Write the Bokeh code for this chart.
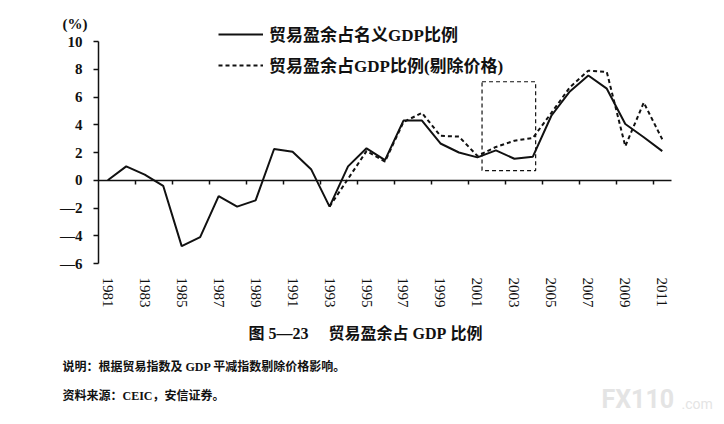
import math
from bokeh.plotting import figure
from bokeh.models import (Range1d, FixedTicker, Label, Legend, LegendItem,
                          BoxAnnotation, LinearAxis)
from bokeh.embed import file_html
from bokeh.resources import INLINE

# ---------------- data ----------------
years = list(range(1981, 2012))
nominal = [0.0, 1.0, 0.4, -0.4, -4.75, -4.1, -1.15, -1.9, -1.45, 2.25, 2.05,
           0.8, -1.9, 1.0, 2.3, 1.45, 4.3, 4.3, 2.65, 2.0, 1.65, 2.15, 1.55,
           1.7, 4.65, 6.4, 7.55, 6.6, 4.05, 3.1, 2.1]
years_real = list(range(1993, 2012))
real = [-1.9, 0.1, 2.1, 1.35, 4.2, 4.85, 3.2, 3.15, 1.75, 2.4, 2.85, 3.05,
        4.85, 6.7, 7.9, 7.8, 2.45, 5.6, 2.95]
x_tick_labels = list(range(1981, 2012, 2))
x_tick_marks = [y + 0.5 for y in range(1982, 2011, 2)]
y_ticks = [-6, -4, -2, 0, 2, 4, 6, 8, 10]
highlight = dict(left=2001.25, right=2004.15, bottom=0.7, top=7.1)

series_names = ["贸易盈余占名义GDP比例", "贸易盈余占GDP比例(剔除价格)"]
caption = "图\u00a05—23\u3000\u00a0贸易盈余占\u00a0GDP\u00a0比例"
note1 = "说明：根据贸易指数及 GDP 平减指数剔除价格影响。"
note2 = "资料来源：CEIC，安信证券。"

FONT = "Liberation Serif, Noto Sans CJK SC"

# ---------------- layout (pixels) ----------------
W, H = 716, 416
AX_L, AX_T, AX_W, AX_H = 98, 41, 573, 222      # axes box in canvas pixels
XA, XB, YA, YB = 1980.5, 2011.5, -6, 10         # axes box in data units
sx = AX_W / (XB - XA)
sy = AX_H / (YB - YA)
x_range = Range1d(XA - AX_L / sx, XB + (W - AX_L - AX_W) / sx)
y_range = Range1d(YA - (H - AX_T - AX_H) / sy, YB + AX_T / sy)

p = figure(width=W, height=H, output_backend="svg", toolbar_location=None,
           x_range=x_range, y_range=y_range, min_border=0)
p.outline_line_color = None
p.border_fill_color = "white"
p.background_fill_color = "white"
p.grid.visible = False

INK = "#111111"

# y axis at the left edge of the axes box
ya = p.yaxis[0]
ya.fixed_location = XA
ya.bounds = (YA, YB)
ya.ticker = FixedTicker(ticks=y_ticks)
ya.major_label_overrides = {t: (("—" + str(-t)) if t < 0 else str(t)) for t in y_ticks}
ya.axis_line_width = 1.5
ya.axis_line_color = INK
ya.major_tick_line_color = INK
ya.major_tick_line_width = 1.5
ya.major_tick_out = 5
ya.major_tick_in = 0
ya.minor_tick_line_color = None
ya.major_label_standoff = 11
ya.major_label_text_font = FONT
ya.major_label_text_font_style = "bold"
ya.major_label_text_font_size = "15px"
ya.major_label_text_color = INK

# x axis line through zero, with tick marks between category pairs
xz = p.xaxis[0]
xz.fixed_location = 0
xz.bounds = (XA, XB)
xz.ticker = FixedTicker(ticks=x_tick_marks)
xz.axis_line_width = 1.5
xz.axis_line_color = INK
xz.major_tick_line_color = INK
xz.major_tick_line_width = 1.5
xz.major_tick_out = 4
xz.major_tick_in = 0
xz.minor_tick_line_color = None
xz.major_label_text_font_size = "0px"
xz.major_label_text_color = None

# year labels under the axes box
xl = LinearAxis(fixed_location=YA, ticker=FixedTicker(ticks=x_tick_labels),
                axis_line_color=None, major_tick_line_color=None,
                minor_tick_line_color=None,
                major_label_orientation=-math.pi / 2,
                major_label_standoff=8, major_label_text_font=FONT,
                major_label_text_font_size="15px", major_label_text_color=INK)
p.add_layout(xl, "below")

# series
r1 = p.line(years, nominal, line_color=INK, line_width=2)
r2 = p.line(years_real, real, line_color=INK, line_width=2, line_dash="4 3")

p.add_layout(BoxAnnotation(fill_color=None, fill_alpha=0, line_color=INK,
                           line_alpha=1, line_width=1.2, line_dash="4 3",
                           **highlight))

legend = Legend(items=[LegendItem(label=series_names[0], renderers=[r1]),
                       LegendItem(label=series_names[1], renderers=[r2])],
                location=(218, H - 77), orientation="vertical",
                glyph_width=45, glyph_height=20, label_height=20, spacing=6,
                padding=0, margin=0, label_standoff=6,
                border_line_color=None, background_fill_alpha=0,
                label_text_font=FONT, label_text_font_style="bold",
                label_text_font_size="17px", label_text_color=INK)
p.add_layout(legend)


def put(text, px, py, size, align="left", bold=True, color=INK, font=FONT):
    p.add_layout(Label(x=px, y=H - py, x_units="screen", y_units="screen",
                       text=text, text_font=font,
                       text_font_size=size, text_align=align,
                       text_baseline="middle",
                       text_font_style="bold" if bold else "normal",
                       text_color=color))


put("(%)", 62, 23, "15px")
put(caption, 365, 333, "16px", align="center")
put(note1, 62, 366, "12px")
put(note2, 62, 395, "12px")
put("FX110", 601, 399, "25px", color="#e4e4e4", font="Roboto")
put(".com", 681, 403, "14px", bold=False, color="#e4e4e4", font="Roboto")

open("out.html", "w").write(file_html(p, INLINE))
